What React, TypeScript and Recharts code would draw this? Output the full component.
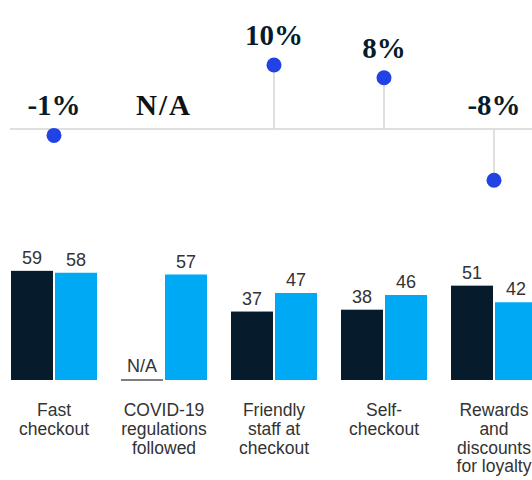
import { BarChart, Bar, XAxis, YAxis, LabelList, ComposedChart, Scatter, ReferenceLine } from 'recharts';

const categories = [
  'Fast checkout',
  'COVID-19 regulations followed',
  'Friendly staff at checkout',
  'Self-checkout',
  'Rewards and discounts for loyalty',
];
const categoryLines = [
  ['Fast', 'checkout'],
  ['COVID-19', 'regulations', 'followed'],
  ['Friendly', 'staff at', 'checkout'],
  ['Self-', 'checkout'],
  ['Rewards', 'and', 'discounts', 'for loyalty'],
];
const priorValues: (number | null)[] = [59, null, 37, 38, 51];
const currentValues = [58, 57, 47, 46, 42];
const changeValues: (number | null)[] = [-1, null, 10, 8, -8];

const DARK = '#061c2c';
const LIGHT = '#00a9f4';
const DOT = '#2143e6';
const SERIF = '"Liberation Serif", "Times New Roman", serif';
const SANS = '"Liberation Sans", Arial, sans-serif';

const barData = categories.map((name, i) => ({
  name,
  prior: priorValues[i],
  current: currentValues[i],
}));

// change labels sit on the dot when positive, otherwise on the zero line
const labelData = categories.map((name, i) => ({
  idx: i,
  change: changeValues[i],
  anchor: Math.max(changeValues[i] ?? 0, 0),
}));
const dotData = labelData.filter((d) => d.change !== null);

const ChangeLabel = (props: any) => {
  const { cx, cy, payload } = props;
  const v = payload.change;
  const text = v === null ? 'N/A' : `${v}%`;
  return (
    <text
      x={cx}
      y={cy - (v !== null && v > 0 ? 20 : 14)}
      textAnchor="middle"
      fontFamily={SERIF}
      fontWeight="bold"
      fontSize={29}
      letterSpacing={v === null ? 2 : 0}
      fill={v === null ? '#111' : DARK}
    >
      {text}
    </text>
  );
};

const ChangeDot = (props: any) => <circle cx={props.cx} cy={props.cy} r={7.5} fill={DOT} />;

const PriorBar = (props: any) => {
  const { x, y, width, height, payload } = props;
  if (payload.prior === null) {
    return (
      <g>
        <line x1={x} x2={x + width} y1={y + height} y2={y + height} stroke="#555" strokeWidth={1.5} />
        <text x={x + width / 2} y={y + height - 8} textAnchor="middle" fontFamily={SANS} fontSize={18} fill="#333">
          N/A
        </text>
      </g>
    );
  }
  return (
    <g>
      <rect x={x} y={y} width={width} height={height} fill={DARK} />
      <text x={x + width / 2} y={y - 7} textAnchor="middle" fontFamily={SANS} fontSize={18} fill="#333">
        {payload.prior}
      </text>
    </g>
  );
};

const CategoryTick = (props: any) => {
  const { x, y, index } = props;
  const lines = categoryLines[index] ?? [];
  return (
    <text x={x} y={y} textAnchor="middle" fontFamily={SANS} fontSize={17.5} fill="#333">
      {lines.map((l, i) => (
        <tspan key={i} x={x} dy={i === 0 ? 36 : 18.8}>
          {l}
        </tspan>
      ))}
    </text>
  );
};

export default function App() {
  return (
    <div
      style={{
        position: 'fixed',
        left: 0,
        top: 0,
        width: 532,
        height: 480,
        overflow: 'hidden',
        background: '#fff',
      }}
    >
      <div style={{ position: 'absolute', left: -1, top: 0 }}>
        <BarChart
          width={550}
          height={480}
          data={barData}
          margin={{ top: 195, right: 0, bottom: 0, left: 0 }}
          barCategoryGap={12}
          barGap={2}
        >
          <XAxis
            dataKey="name"
            axisLine={false}
            tickLine={false}
            tickSize={0}
            tickMargin={0}
            interval={0}
            height={100}
            tick={<CategoryTick />}
          />
          <YAxis hide domain={[0, 100]} />
          <Bar dataKey={(d: any) => d.prior ?? 0} fill={DARK} shape={<PriorBar />} isAnimationActive={false} />
          <Bar dataKey="current" fill={LIGHT} isAnimationActive={false}>
            <LabelList dataKey="current" position="top" offset={7} fill="#333" fontSize={18} fontFamily={SANS} />
          </Bar>
        </BarChart>
      </div>
      <div style={{ position: 'absolute', left: 0, top: 0 }}>
        <ComposedChart width={560} height={200} margin={{ top: 33, right: 11, bottom: 7, left: 10 }}>
          <XAxis type="number" dataKey="idx" domain={[-0.4, 4.5]} hide />
          <YAxis type="number" domain={[-10, 15]} hide />
          <ReferenceLine y={0} stroke="#d4d4d4" strokeWidth={1.5} />
          {dotData.map((d) => (
            <ReferenceLine
              key={d.idx}
              segment={[
                { x: d.idx, y: 0 },
                { x: d.idx, y: d.change as number },
              ]}
              stroke="#d4d4d4"
              strokeWidth={1.5}
            />
          ))}
          <Scatter data={dotData} dataKey="change" shape={<ChangeDot />} isAnimationActive={false} />
          <Scatter data={labelData} dataKey="anchor" shape={<ChangeLabel />} isAnimationActive={false} />
        </ComposedChart>
      </div>
    </div>
  );
}
